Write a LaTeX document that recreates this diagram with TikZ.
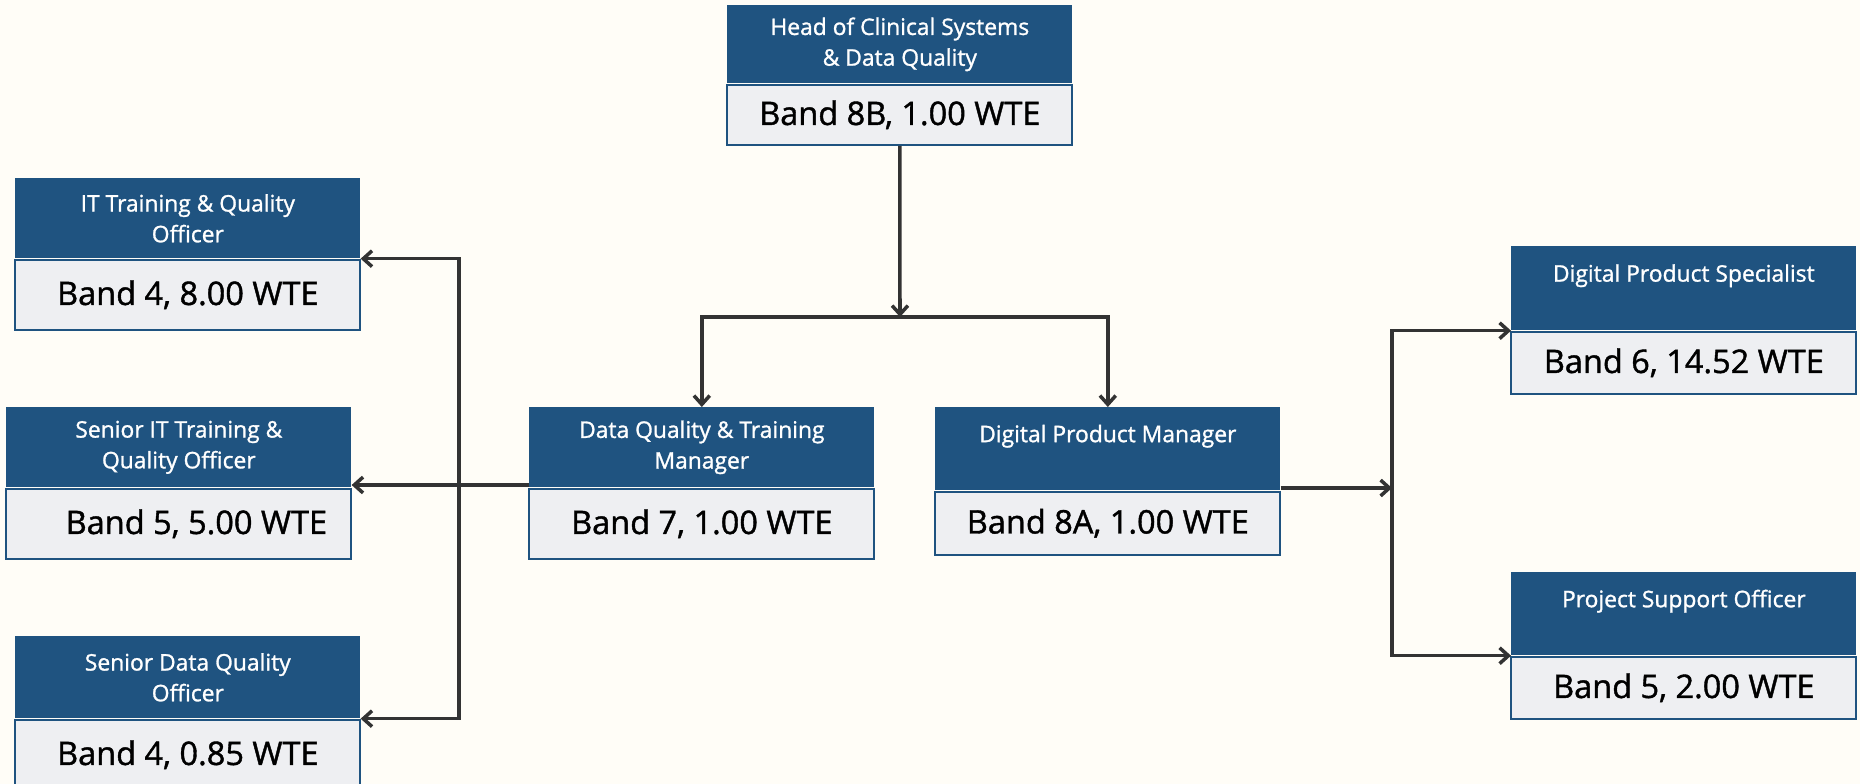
\documentclass[tikz,border=0pt]{standalone}
\usepackage{fontspec}
\setmainfont{Open Sans}
\newfontfamily\medfont{Open Sans}[FakeBold=1.2]
\usetikzlibrary{positioning,arrows.meta}
\definecolor{hblue}{HTML}{1F5380}
\definecolor{bgrey}{HTML}{EEEFF2}
\definecolor{paper}{HTML}{FFFDF7}
\definecolor{wire}{HTML}{333333}

\begin{document}
\begin{tikzpicture}[x=0.02cm, y=-0.02cm,
    role/.style={fill=hblue, text=white, anchor=north west, align=center, inner sep=0pt,
        minimum width=6.9cm, minimum height=1.6cm, font=\medfont\fontsize{13}{17.5}\selectfont},
    band/.style={draw=hblue, fill=bgrey, line width=1.2pt, inner sep=0pt, below=0pt of #1,
        minimum width=6.9cm, minimum height=1.4cm, font=\medfont\fontsize{18.5}{20}\selectfont},
    link/.style={draw=wire, line width=2pt, -{Straight Barb[length=5pt,width=9pt]}}]
    \fill[paper] (0,0) rectangle (1860,784);
    \useasboundingbox (0,0) rectangle (1860,784);

    % Nodes
    \node[role, minimum height=1.56cm] (head) at (727,5) {Head of Clinical Systems\\\& Data Quality};
    \node[band=head, minimum height=1.2cm] (headB) {Band 8B, 1.00 WTE};

    \node[role] (itq) at (15,178) {IT Training \& Quality\\Officer};
    \node[band=itq] (itqB) {Band 4, 8.00 WTE};
    \node[role] (sitq) at (6,407) {Senior IT Training \&\\Quality Officer};
    \node[band=sitq] (sitqB) {\hspace{20pt}Band 5, 5.00 WTE};
    \node[role, minimum height=1.64cm] (sdq) at (15,636) {Senior Data Quality\\Officer};
    \node[band=sdq] (sdqB) {Band 4, 0.85 WTE};

    \node[role] (dqm) at (529,407) {Data Quality \& Training\\Manager};
    \node[band=dqm] (dqmB) {Band 7, 1.00 WTE};
    \node[role, minimum height=1.66cm] (dpm) at (935,407) {Digital Product Manager\\\mbox{}};
    \node[band=dpm, minimum height=1.26cm] (dpmB) {Band 8A, 1.00 WTE};

    \node[role, minimum height=1.68cm] (dps) at (1511,246) {Digital Product Specialist\\\mbox{}};
    \node[band=dps, minimum height=1.24cm] (dpsB) {Band 6, 14.52 WTE};
    \node[role, minimum height=1.66cm] (pso) at (1511,572) {Project Support Officer\\\mbox{}};
    \node[band=pso, minimum height=1.24cm] (psoB) {Band 5, 2.00 WTE};

    \coordinate (split) at (900,317);
    \coordinate (lhub) at (459,485);
    \coordinate (rhub) at (1392,488);

    % Arrows
    \draw[link] (headB) -- (split);
    \draw[link] (split) -| (dqm);
    \draw[link] (split) -| (dpm);
    \draw[link] (dqm.west |- lhub) -- (sitq.east |- lhub);
    \draw[link] (lhub) |- (itq.south east);
    \draw[link] (lhub) |- (sdq.south east);
    \draw[link] (dpm.east |- rhub) -- (rhub);
    \draw[link] (rhub) |- (dps.south west);
    \draw[link] (rhub) |- (pso.south west);
\end{tikzpicture}
\end{document}
